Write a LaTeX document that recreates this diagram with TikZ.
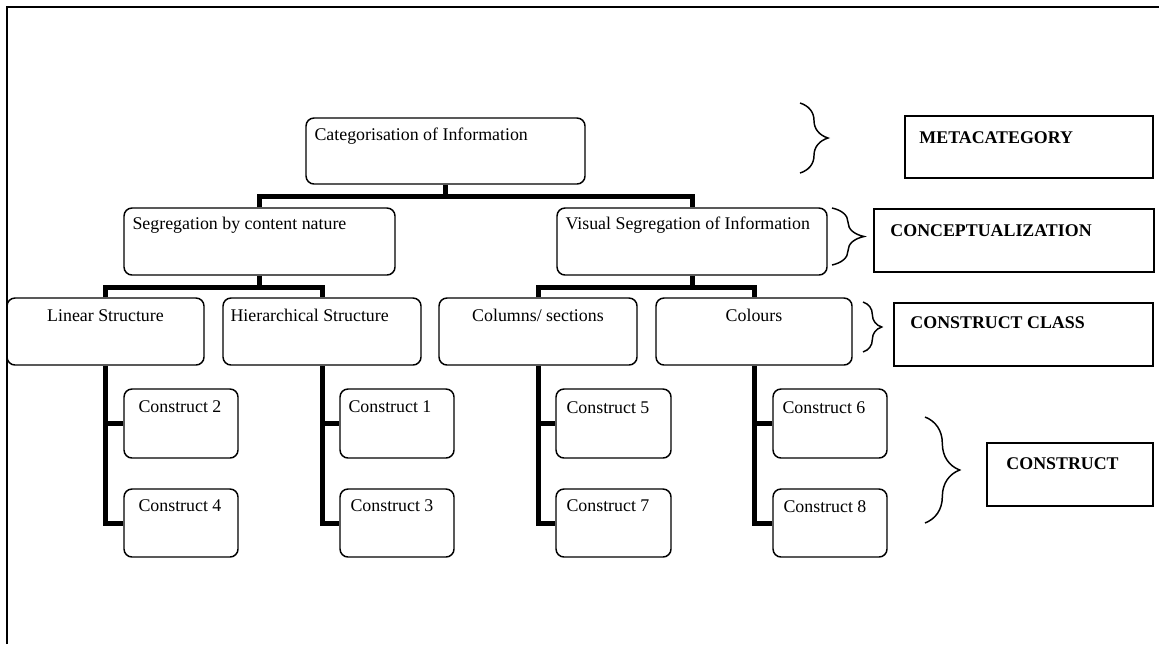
\documentclass[tikz,border=0pt]{standalone}
\usepackage{fontspec}
\setmainfont{Liberation Serif}
\usetikzlibrary{calc,positioning,fit,decorations.pathreplacing}

\tikzset{
  unitbox/.style={draw, line width=1.1pt, rounded corners=6pt, inner sep=0pt},
  levelbox/.style={draw, line width=1.2pt, inner sep=0pt},
  txt/.style={inner sep=0pt, font=\fontsize{13.4}{16}\selectfont},
  levtxt/.style={txt, font=\fontsize{13.4}{16}\selectfont\bfseries},
  bus/.style={line width=3.75pt},
  curly/.style={decorate, line width=1.1pt},
}

\begin{document}
\begin{tikzpicture}[x=0.75pt, y=-0.75pt]
\useasboundingbox (0,0) rectangle (1159,644);

% frame
\draw[line width=1.5pt] (7,644) -- (7,7) -- (1159,7);

% hierarchy boxes
\node(cat) [unitbox, fit={(306,118)(585,184)}] {};
\node(seg) [unitbox, fit={(124,208)(395,275)}] {};
\node(vis) [unitbox, fit={(557,208)(827,275)}] {};
\node(lin) [unitbox, fit={(7,298)(204,365)}] {};
\node(hier) [unitbox, fit={(223,298)(421,365)}] {};
\node(col) [unitbox, fit={(439,298)(637,365)}] {};
\node(colr) [unitbox, fit={(656,298)(852,365)}] {};
\node(c2) [unitbox, fit={(124,389)(238,458)}] {};
\node(c4) [unitbox, fit={(124,489)(238,557)}] {};
\node(c1) [unitbox, fit={(340,389)(454,458)}] {};
\node(c3) [unitbox, fit={(340,489)(454,557)}] {};
\node(c5) [unitbox, fit={(556,389)(671,458)}] {};
\node(c7) [unitbox, fit={(556,489)(671,557)}] {};
\node(c6) [unitbox, fit={(773,389)(887,458)}] {};
\node(c8) [unitbox, fit={(773,489)(887,557)}] {};

% texts
\node(catt) [txt, anchor=base west] at ([shift={(9,23)}]cat.north west) {Categorisation of Information};
\node(segt) [txt, anchor=base west] at ([shift={(9,22)}]seg.north west) {Segregation by content nature};
\node(vist) [txt, anchor=base west] at ([shift={(9,22)}]vis.north west) {Visual Segregation of Information};
\node(lint) [txt, anchor=base] at ([shift={(0,24)}]lin.north) {Linear Structure};
\node(hiert) [txt, anchor=base west] at ([shift={(8,24)}]hier.north west) {Hierarchical Structure};
\node(colt) [txt, anchor=base] at ([shift={(0,24)}]col.north) {Columns/ sections};
\node(colrt) [txt, anchor=base] at ([shift={(0,24)}]colr.north) {Colours};
\node(c2t) [txt, anchor=base west] at ([shift={(15,24)}]c2.north west) {Construct 2};
\node(c4t) [txt, anchor=base west] at ([shift={(15,23)}]c4.north west) {Construct 4};
\node(c1t) [txt, anchor=base west] at ([shift={(9,24)}]c1.north west) {Construct 1};
\node(c3t) [txt, anchor=base west] at ([shift={(11,23)}]c3.north west) {Construct 3};
\node(c5t) [txt, anchor=base west] at ([shift={(11,25)}]c5.north west) {Construct 5};
\node(c7t) [txt, anchor=base west] at ([shift={(11,23)}]c7.north west) {Construct 7};
\node(c6t) [txt, anchor=base west] at ([shift={(10,25)}]c6.north west) {Construct 6};
\node(c8t) [txt, anchor=base west] at ([shift={(11,24)}]c8.north west) {Construct 8};

% level boxes
\node(meta) [levelbox, fit={(905,116)(1153,178)}] {};
\node(concept) [levelbox, fit={(874,209)(1154,272)}] {};
\node(cclass) [levelbox, fit={(894,303)(1153,366)}] {};
\node(constr) [levelbox, fit={(987,443)(1153,506)}] {};
\node(metat) [levtxt, anchor=base west] at ([shift={(15,28)}]meta.north west) {METACATEGORY};
\node(conceptt) [levtxt, anchor=base west] at ([shift={(17,28)}]concept.north west) {CONCEPTUALIZATION};
\node(cclasst) [levtxt, anchor=base west] at ([shift={(17,26)}]cclass.north west) {CONSTRUCT CLASS};
\node(constrt) [levtxt, anchor=base west] at ([shift={(20,27)}]constr.north west) {CONSTRUCT};

% braces
\draw[curly, decoration={brace, amplitude=21pt}] (800,103) -- (800,173);
\draw[curly, decoration={brace, amplitude=24pt}] (832,208) -- (832,265);
\draw[curly, decoration={brace, amplitude=14pt}] (863,302) -- (863,352);
\draw[curly, decoration={brace, amplitude=26pt}] (925,417) -- (925,523);

% connectors
\coordinate (j1) at ($(cat.south)+(0,12)$);
\draw[bus] (cat.south) -- (j1);
\draw[bus] (seg.north) |- (j1) -| (vis.north);

\coordinate (j2) at ($(seg.south)+(0,12)$);
\draw[bus] (seg.south) -- (j2);
\draw[bus] (lin.north) |- (j2) -| (hier.north);

\coordinate (j3) at ($(vis.south)+(0,12)$);
\draw[bus] (vis.south) -- (j3);
\draw[bus] (col.north) |- (j3) -| (colr.north);

\draw[bus] (lin.south) |- (c4.west);
\draw[bus] (lin.south |- c2.west) -- (c2.west);
\draw[bus] (hier.south) |- (c3.west);
\draw[bus] (hier.south |- c1.west) -- (c1.west);
\draw[bus] (col.south) |- (c7.west);
\draw[bus] (col.south |- c5.west) -- (c5.west);
\draw[bus] (colr.south) |- (c8.west);
\draw[bus] (colr.south |- c6.west) -- (c6.west);

\end{tikzpicture}
\end{document}
